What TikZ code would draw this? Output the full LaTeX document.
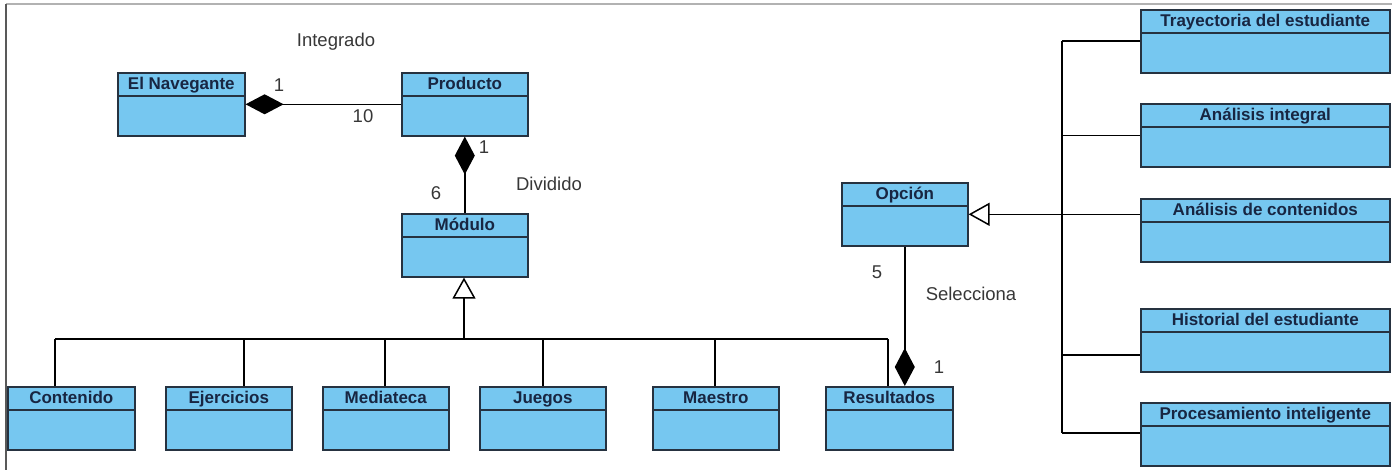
\documentclass[tikz,border=0pt]{standalone}
\usepackage{fontspec}
\setmainfont{Liberation Sans}
\usetikzlibrary{arrows.meta,calc}
\definecolor{clsfill}{RGB}{118,199,240}
\definecolor{clsedge}{RGB}{38,50,64}
\definecolor{clstext}{RGB}{24,38,66}
\definecolor{lbltext}{RGB}{55,55,55}
\tikzset{
  cls/.style={draw=clsedge, fill=clsfill, line width=1.6pt, rectangle, inner sep=0pt, anchor=north west, minimum height=63pt},
  clsrule/.style={draw=clsedge, line width=1.4pt},
  clshead/.style={text=clstext, font=\fontsize{17}{20}\selectfont\bfseries, inner sep=0pt, anchor=base},
  lbl/.style={text=lbltext, font=\fontsize{18.5}{22}\selectfont, inner sep=0pt, anchor=center},
  conn/.style={draw=black, line width=1.5pt},
  compo/.style={conn, -{Diamond[length=38pt,width=20pt,fill=black]}},
  compostart/.style={conn, {Diamond[length=38pt,width=20pt,fill=black]}-},
  gen/.style={conn, -{Triangle[open,length=21pt,width=23pt,line width=1.5pt,fill=white]}},
}
% class box: name, left, top, width, title
\newcommand\umlclass[5]{%
  \node[cls, minimum width=#4pt] (#1) at (#2,#3) {};
  \draw[clsrule] ([yshift=-24pt]#1.north west) -- ([yshift=-24pt]#1.north east);
  \node[clshead] (#1-title) at ([yshift=-17.5pt]#1.north) {#5};
}
\begin{document}
\begin{tikzpicture}[x=1pt,y=-1pt]
\useasboundingbox (0,0) rectangle (1392,470);
% page frame
\draw[gray!60, line width=1.3pt] (6,4) -- (1392,4);
\draw[black!65, line width=1.3pt] (6,4) -- (6,470);

% classes
\umlclass{nav}{117}{72}{127}{El Navegante}
\umlclass{prod}{401}{72}{126}{Producto}
\umlclass{mod}{401}{213}{126}{Módulo}
\umlclass{cont}{7}{386}{127}{Contenido}
\umlclass{ejer}{165}{386}{126}{Ejercicios}
\umlclass{medi}{322}{386}{126}{Mediateca}
\umlclass{jueg}{479}{386}{126}{Juegos}
\umlclass{maes}{652}{386}{126}{Maestro}
\umlclass{res}{825}{386}{127}{Resultados}
\umlclass{opc}{841}{182}{126}{Opción}
\umlclass{tray}{1140}{9}{249}{Trayectoria del estudiante}
\umlclass{aint}{1140}{103}{249}{Análisis integral}
\umlclass{acon}{1140}{198}{249}{Análisis de contenidos}
\umlclass{hist}{1140}{308}{249}{Historial del estudiante}
\umlclass{proc}{1140}{402}{249}{Procesamiento inteligente}

% composition: El Navegante - Producto
\draw[compo] (prod.west) -- (nav.east);
\node[lbl] (integ) at (336,42) {Integrado};
\node[lbl] (m1a) at (279,85) {1};
\node[lbl] (m10) at (363,116) {10};

% composition: Producto - Módulo
\draw[compostart] (prod.south) -- (mod.north);
\node[lbl] (m1b) at (484,147) {1};
\node[lbl] (m6) at (436,193) {6};
\node[lbl] (divi) at (549,184) {Dividido};

% generalization of the modules
\coordinate (bm) at (464,339);
\coordinate (dC) at (55,339);
\coordinate (dE) at (244,339);
\coordinate (dM) at (385,339);
\coordinate (dJ) at (543,339);
\coordinate (dA) at (715,339);
\coordinate (dR) at (888,339);
\draw[gen] (bm) -- (bm |- mod.south);
\draw[conn] (dC) -- (dR);
\foreach \d/\c in {dC/cont,dE/ejer,dM/medi,dJ/jueg,dA/maes,dR/res}
  \draw[conn] (\d) -- (\d |- \c.north);

% composition: Resultados - Opción
\draw[compo] (opc.south) -- (opc.south |- res.north);
\node[lbl] (m5) at (877,272) {5};
\node[lbl] (sel) at (971,294) {Selecciona};
\node[lbl] (m1c) at (939,367) {1};

% generalization of the options
\coordinate (rt) at (1062,41);
\coordinate (rb) at (1062,433);
\coordinate (rh) at (1062,355);
\draw[gen] (opc.east -| acon.west) -- (opc.east);
\draw[conn] (rt) -- (rb);
\draw[conn] (rt) -- (rt -| tray.west);
\draw[conn] (aint.west -| rt) -- (aint.west);
\draw[conn] (rh) -- (rh -| hist.west);
\draw[conn] (rb) -- (rb -| proc.west);
\end{tikzpicture}
\end{document}
